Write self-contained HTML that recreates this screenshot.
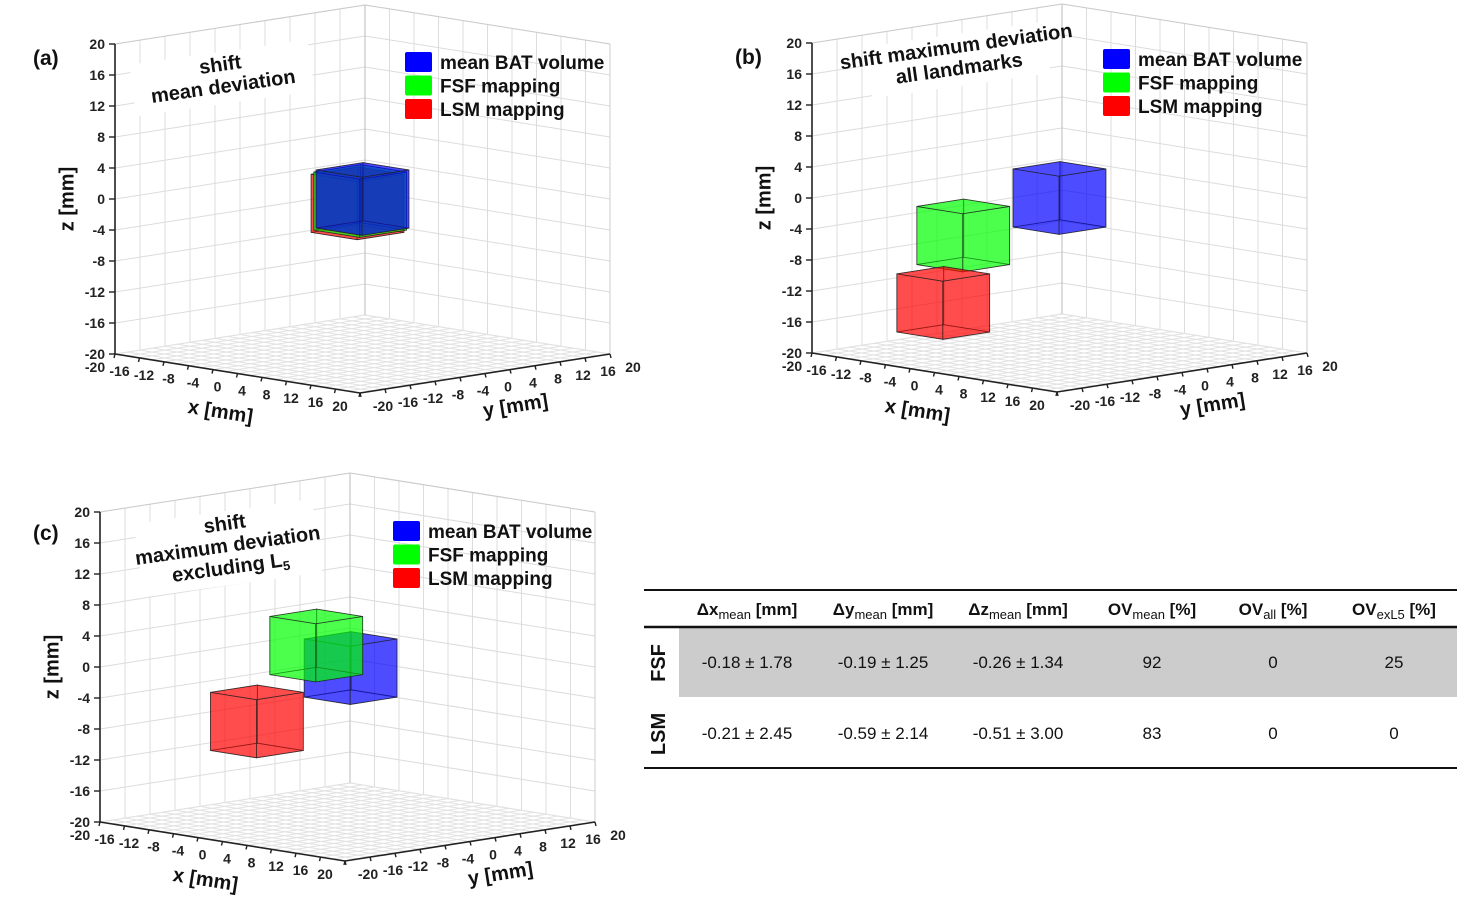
<!DOCTYPE html>
<html><head><meta charset="utf-8">
<style>
html,body{margin:0;padding:0;background:#fff;}
svg{display:block;font-family:"Liberation Sans",Arial,sans-serif;}
.tk{font-size:14px;font-weight:bold;fill:#222;}
.ttl{font-size:20px;font-weight:bold;fill:#111;}
.leg{font-size:19px;font-weight:bold;fill:#111;}
.pl{font-size:21px;font-weight:bold;fill:#111;}
.th{font-size:17px;fill:#111;}
.td{font-size:17px;fill:#111;}
</style></head>
<body>
<svg id="fig" width="1471" height="914" viewBox="0 0 1471 914"></svg>
<script>
// ---- data ----
const ticks = [-20,-16,-12,-8,-4,0,4,8,12,16,20];
const seriesNames = ["mean BAT volume","FSF mapping","LSM mapping"];
const seriesColors = ["#0000ff","#00ff00","#ff0000"];
const cubeSide = 7.5;
// cube centers [x,y,z] per panel, series order: BAT, FSF, LSM
const centersA = [[0,0,0],[-0.18,-0.19,-0.26],[-0.21,-0.59,-0.51]];
const centersB = [[0,0,0],[0,-15.4,-2.9],[0,-18.6,-11.2]];
const centersC = [[0,0.5,-0.2],[0,-5,3.4],[0,-14.5,-5.2]];
const tableHeaders = ["Δx|mean|[mm]","Δy|mean|[mm]","Δz|mean|[mm]","OV|mean|[%]","OV|all|[%]","OV|exL5|[%]"];
const tableRowLabels = ["FSF","LSM"];
const tableRowFSF = ["-0.18 ± 1.78","-0.19 ± 1.25","-0.26 ± 1.34","92","0","25"];
const tableRowLSM = ["-0.21 ± 2.45","-0.59 ± 2.14","-0.51 ± 3.00","83","0","0"];

const NS="http://www.w3.org/2000/svg";
const svg=document.getElementById('fig');
function mk(tag,attrs,parent){const e=document.createElementNS(NS,tag);for(const k in attrs)e.setAttribute(k,attrs[k]);(parent||svg).appendChild(e);return e;}

function panel(id,ox,oy,centers,label,labelPos,titleLines,titlePos,legPos,drawOrder){
  const g=mk('g',{});
  
  
  const cx=362.5+ox, cy=199+oy;
  const P=(x,y,z)=>[cx+6.125*x+6.25*y, cy+0.975*x-0.975*y-7.75*z];
  const line=(a,b,st,w)=>mk('line',{x1:a[0],y1:a[1],x2:b[0],y2:b[1],stroke:st,'stroke-width':w||1},g);
  for(const v of ticks){
    line(P(-20,v,-20),P(-20,v,20),'#dcdcdc');
    line(P(-20,-20,v),P(-20,20,v),'#dcdcdc');
    line(P(v,20,-20),P(v,20,20),'#dcdcdc');
    line(P(-20,20,v),P(20,20,v),'#dcdcdc');
  }
  for(let v=-20;v<=20;v+=2){
    line(P(v,-20,-20),P(v,20,-20),'#e2e2e2');
    line(P(-20,v,-20),P(20,v,-20),'#e2e2e2');
  }
  line(P(-20,20,-20),P(-20,20,20),'#bbb');
  line(P(-20,-20,20),P(-20,20,20),'#ccc');
  line(P(-20,20,20),P(20,20,20),'#ccc');
  line(P(20,20,-20),P(20,20,20),'#ccc');
  const ax=mk('g',{},g);
  
  
  line(P(-20,-20,-20),P(-20,-20,20),'#222',1.6);
  line(P(-20,-20,-20),P(20,-20,-20),'#222',1.6);
  line(P(20,-20,-20),P(20,20,-20),'#222',1.6);
  for(const v of ticks){
    let p=P(-20,-20,v);
    line(p,[p[0]-6,p[1]],'#222',1.4);
    let t=mk('text',{x:p[0]-10,y:p[1]+5,'text-anchor':'end',class:'tk'},g);t.textContent=v;
    
    p=P(v,-20,-20);
    line(p,[p[0]-1,p[1]+4],'#222',1.4);
    t=mk('text',{x:p[0]-20,y:p[1]+18,'text-anchor':'middle',class:'tk'},g);t.textContent=v;
    
    p=P(20,v,-20);
    line(p,[p[0]+1,p[1]+4],'#222',1.4);
    t=mk('text',{x:p[0]+23,y:p[1]+18,'text-anchor':'middle',class:'tk'},g);t.textContent=v;
    
  }
  let t=mk('text',{x:0,y:0,class:'ttl','text-anchor':'middle',transform:`translate(${cx-143},${cy+219}) rotate(9)`},g);t.textContent='x [mm]';
  
  t=mk('text',{x:0,y:0,class:'ttl','text-anchor':'middle',transform:`translate(${cx+154},${cy+213}) rotate(-9)`},g);t.textContent='y [mm]';
  
  t=mk('text',{x:0,y:0,class:'ttl','text-anchor':'middle',transform:`translate(${cx-289},${cy}) rotate(-90)`},g);t.textContent='z [mm]';
  
  const h=cubeSide/2;
  drawOrder.forEach(i=>{
    const c=centers[i];
    const cg=mk('g',{},g);
    
    
    const V=(sx,sy,sz)=>P(c[0]+sx*h,c[1]+sy*h,c[2]+sz*h);
    const faces=[
      [[-1,-1,-1],[-1,1,-1],[-1,1,1],[-1,-1,1]],
      [[-1,1,-1],[1,1,-1],[1,1,1],[-1,1,1]],
      [[-1,-1,-1],[1,-1,-1],[1,1,-1],[-1,1,-1]],
      [[1,-1,-1],[1,1,-1],[1,1,1],[1,-1,1]],
      [[-1,-1,-1],[1,-1,-1],[1,-1,1],[-1,-1,1]],
      [[-1,-1,1],[1,-1,1],[1,1,1],[-1,1,1]]
    ];
    faces.forEach(f=>{
      mk('polygon',{points:f.map(v=>V(...v).join(',')).join(' '),fill:seriesColors[i],'fill-opacity':0.45,stroke:'#222','stroke-opacity':0.7,'stroke-width':0.8},cg);
    });
  });
  const tg=mk('g',{transform:`translate(${titlePos[0]},${titlePos[1]}) rotate(-8)`},g);
  
  const bw=180,bh=titleLines.length*22+8;
  mk('rect',{x:-bw/2,y:-bh/2,width:bw,height:bh,fill:'#fff'},tg);
  titleLines.forEach((ln,k)=>{
    const tt=mk('text',{x:0,y:-bh/2+22+k*22-3,'text-anchor':'middle',class:'ttl'},tg);
    if(ln==='excluding L5'){tt.innerHTML='excluding L<tspan font-size="13" dy="4">5</tspan>';}
    else tt.textContent=ln;
  });
  t=mk('text',{x:labelPos[0],y:labelPos[1],class:'pl'},g);t.textContent=label;
  
  const lg=mk('g',{},g);
  
  seriesNames.forEach((n,i)=>{
    const e=mk('g',{},lg);
    
    mk('rect',{x:legPos[0],y:legPos[1]+i*23.5,width:27,height:20,rx:2,fill:seriesColors[i]},e);
    const lt=mk('text',{x:legPos[0]+35,y:legPos[1]+i*23.5+17,class:'leg'},e);lt.textContent=n;
  });
}
panel('a',0,0,centersA,'(a)',[33,65],['shift','mean deviation'],[222,78],[405,52],[2,1,0]);
panel('b',697,-1,centersB,'(b)',[735,64],['shift maximum deviation','all landmarks'],[958,60],[1103,49],[0,1,2]);
panel('c',-15,468,centersC,'(c)',[33,540],['shift','maximum deviation','excluding L5'],[228,548],[393,521],[0,1,2]);

const tb=mk('g',{});

const colX=[747,883,1018,1152,1273,1394];
mk('rect',{x:679,y:628,width:778,height:69,fill:'#cccccc'},tb);
mk('line',{x1:644,y1:590,x2:1457,y2:590,stroke:'#111','stroke-width':2},tb);
mk('line',{x1:644,y1:627,x2:1457,y2:627,stroke:'#111','stroke-width':2.5},tb);
mk('line',{x1:644,y1:768,x2:1457,y2:768,stroke:'#111','stroke-width':2},tb);
tableHeaders.forEach((hd,i)=>{
  const [a,s,b]=hd.split('|');
  const t=mk('text',{x:colX[i],y:615,'text-anchor':'middle',class:'th'},tb);
  t.innerHTML=`<tspan font-weight="bold">${a}</tspan><tspan font-size="13" dy="4">${s}</tspan><tspan font-weight="bold" dy="-4"> ${b}</tspan>`;
  
});
[tableRowFSF,tableRowLSM].forEach((row,r)=>{
  const y=r===0?668:739;
  const rl=mk('text',{x:0,y:0,'text-anchor':'middle',class:'ttl',transform:`translate(665,${y-5}) rotate(-90)`},tb);
  rl.textContent=tableRowLabels[r];
  
  row.forEach((v,i)=>{
    const t=mk('text',{x:colX[i],y:y,'text-anchor':'middle',class:'td'},tb);t.textContent=v;
    
  });
});
</script>
</body></html>
